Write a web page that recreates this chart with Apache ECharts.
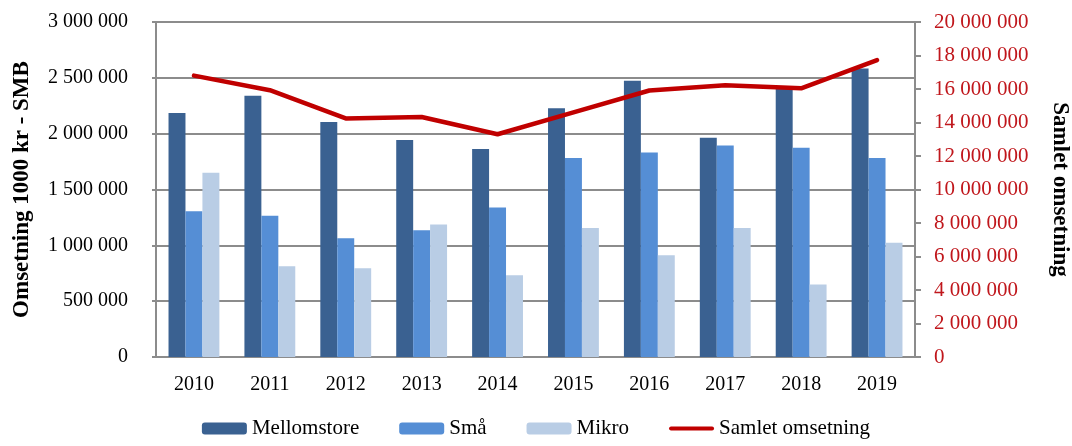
<!DOCTYPE html>
<html>
<head>
<meta charset="utf-8">
<script src="https://cdn.jsdelivr.net/npm/echarts@6/dist/echarts.min.js"></script>
<style>
    html, body { margin: 0; padding: 0; background: #fff; }
    #chart { width: 1072px; height: 446px; }
</style>
</head>
<body>
<div id="chart"></div>
<script>
    // år
    const years = ['2010', '2011', '2012', '2013', '2014', '2015', '2016', '2017', '2018', '2019'];
    // omsetning per størrelse (1000 kr)
    const mellomstore = [2186000, 2339000, 2105000, 1944000, 1863000, 2228000, 2474000, 1964000, 2415000, 2584000];
    const smaa = [1306000, 1266000, 1063000, 1135000, 1338000, 1782000, 1832000, 1895000, 1874000, 1782000];
    const mikro = [1650000, 812000, 794000, 1186000, 731000, 1156000, 911000, 1156000, 650000, 1024000];
    // samlet omsetning (høyre akse)
    const samlet = [16800000, 15930000, 14240000, 14330000, 13300000, 14600000, 15910000, 16220000, 16040000, 17730000];

    const serif = 'Liberation Serif';
    const fmt = v => String(v).replace(/\B(?=(\d{3})+(?!\d))/g, ' ');
    // tykk rød strek som legend-ikon for linja
    const lineIcon = 'path://M2,0 L43,0 A2,2 0 0 1 43,4 L2,4 A2,2 0 0 1 2,0 Z';

    const option = {
        animation: false,
        grid: { left: 156, right: 157, top: 22, bottom: 89, outerBoundsMode: 'none' },
        legend: {
            bottom: 2,
            left: 'center',
            itemWidth: 45,
            itemHeight: 12,
            itemGap: 40,
            textStyle: { fontFamily: serif, fontSize: 21, color: '#000' },
            data: ['Mellomstore', 'Små', 'Mikro', { name: 'Samlet omsetning', icon: lineIcon }]
        },
        xAxis: {
            type: 'category',
            data: years,
            axisLine: { lineStyle: { color: '#8c8c8c', width: 2 } },
            axisTick: { show: false },
            axisLabel: { fontFamily: serif, fontSize: 20, color: '#000', margin: 18 }
        },
        yAxis: [
            {
                type: 'value',
                min: 0, max: 3000000, interval: 500000,
                name: 'Omsetning 1000 kr - SMB',
                nameLocation: 'middle',
                nameGap: 122,
                nameTextStyle: { fontFamily: serif, fontSize: 23, fontWeight: 'bold', color: '#000' },
                axisLine: { show: true, lineStyle: { color: '#8c8c8c', width: 2 } },
                axisTick: { show: true, length: 4, lineStyle: { color: '#8c8c8c', width: 2 } },
                axisLabel: { fontFamily: serif, fontSize: 20, color: '#000', margin: 28, formatter: fmt },
                splitLine: { lineStyle: { color: '#8c8c8c', width: 2 } }
            },
            {
                type: 'value',
                position: 'right',
                min: 0, max: 20000000, interval: 2000000,
                name: 'Samlet omsetning',
                nameLocation: 'middle',
                nameRotate: -90,
                nameGap: 133,
                nameTextStyle: { fontFamily: serif, fontSize: 23, fontWeight: 'bold', color: '#000' },
                axisLine: { show: true, lineStyle: { color: '#8c8c8c', width: 2 } },
                axisTick: { show: true, length: 6, lineStyle: { color: '#8c8c8c', width: 2 } },
                axisLabel: { fontFamily: serif, fontSize: 21, color: '#c0171c', margin: 19, formatter: fmt },
                splitLine: { show: false }
            }
        ],
        series: [
            {
                name: 'Mellomstore', type: 'bar', data: mellomstore,
                barGap: '0%', barCategoryGap: '33%',
                itemStyle: { color: '#3a6191' }
            },
            {
                name: 'Små', type: 'bar', data: smaa,
                itemStyle: { color: '#558ed5' }
            },
            {
                name: 'Mikro', type: 'bar', data: mikro,
                itemStyle: { color: '#b9cde5' }
            },
            {
                name: 'Samlet omsetning', type: 'line', yAxisIndex: 1, data: samlet,
                symbol: 'none',
                lineStyle: { color: '#c00000', width: 4.5, cap: 'round', join: 'round' },
                itemStyle: { color: '#c00000' }
            }
        ]
    };

    const mychart = echarts.init(document.getElementById('chart'));
    mychart.setOption(option);
</script>
</body>
</html>
